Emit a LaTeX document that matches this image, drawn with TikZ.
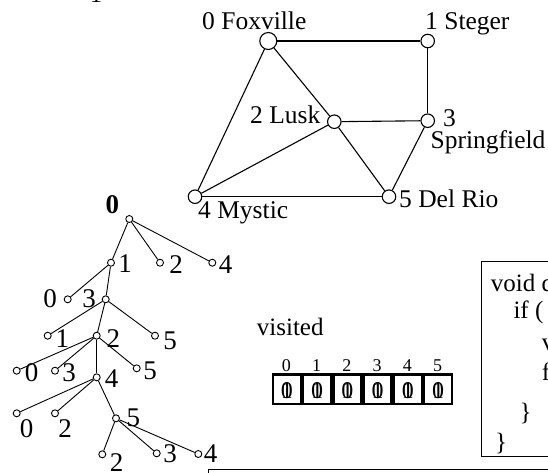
\documentclass[tikz,border=0pt]{standalone}
\usepackage{fontspec}
\setmainfont{Liberation Serif}
\begin{document}
\begin{tikzpicture}[x=1pt,y=-1pt,
  gv/.style={circle,draw,fill=white,line width=1.1pt,minimum size=13.5pt,inner sep=0pt},
  gl/.style={font=\fontsize{25.5}{29}\selectfont,inner sep=0pt,anchor=base west},
  tv/.style={circle,draw,fill=white,line width=0.9pt,minimum size=7pt,inner sep=0pt},
  tl/.style={font=\fontsize{27}{30}\selectfont,inner sep=0pt},
  ge/.style={line width=1.1pt},
  te/.style={line width=0.9pt},
  cell/.style={draw,line width=2.5pt,minimum width=28pt,minimum height=29.5pt,inner sep=0pt},
  cellnum/.style={font=\fontsize{24}{28}\selectfont,inner sep=0pt,anchor=base},
  idx/.style={font=\fontsize{18}{20}\selectfont,inner sep=0pt,anchor=base},
  code/.style={font=\fontsize{25}{28}\selectfont,inner sep=0pt,anchor=base west}]
\useasboundingbox (0,0) rectangle (548,472);

% cut-off glyph at top
\node[font=\fontsize{24}{28}\selectfont,inner sep=0pt,anchor=base] (topglyph) at (96,2.5) {1};

% ---------- graph ----------
\node[gv,minimum size=17pt] (g0) at (268.3,41) {};
\node[gv] (g1) at (427.7,41) {};
\node[gv] (g2) at (334.3,121.7) {};
\node[gv] (g3) at (427.7,120.7) {};
\node[gv] (g4) at (195,196.7) {};
\node[gv] (g5) at (389,196.7) {};
\draw[ge] (g0) -- (g1);
\draw[ge] (g0) -- (g2);
\draw[ge] (g0) -- (g4);
\draw[ge] (g1) -- (g3);
\draw[ge] (g2) -- (g3);
\draw[ge] (g2) -- (g4);
\draw[ge] (g2) -- (g5);
\draw[ge] (g3) -- (g5);
\draw[ge] (g4) -- (g5);
\node[gl] (l0) at (202,29) {0 Foxville};
\node[gl] (l1) at (425,29) {1 Steger};
\node[gl] (l2) at (250,123) {2 Lusk};
\node[gl] (l3) at (443,126.5) {3};
\node[gl] (l3b) at (430.5,148.5) {Springfield};
\node[gl] (l4) at (198,218.5) {4 Mystic};
\node[gl] (l5) at (399,207) {5 Del Rio};

% ---------- tree ----------
\node[tv] (r) at (129.3,219) {};
\node[tv] (n1) at (111,262.7) {};
\node[tv] (n2) at (160,262.7) {};
\node[tv] (n4) at (212.3,262.7) {};
\node[tv] (a0) at (67.7,299.3) {};
\node[tv] (a3) at (105.7,299.3) {};
\node[tv] (b1) at (47.7,335.7) {};
\node[tv] (b2) at (96.7,335.7) {};
\node[tv] (b5) at (155,335.7) {};
\node[tv] (c0) at (16.7,370.7) {};
\node[tv] (c3) at (55,370.7) {};
\node[tv] (c5) at (136.7,368.3) {};
\node[tv] (c4) at (96.7,377.3) {};
\node[tv] (d0) at (16.7,413.3) {};
\node[tv] (d2) at (55,413.3) {};
\node[tv] (d5) at (116,418.3) {};
\node[tv] (e2) at (102.3,454.3) {};
\node[tv] (e3) at (156.7,453.3) {};
\node[tv] (e4) at (198.3,454) {};
\draw[te] (r) -- (n1);
\draw[te] (r) -- (n2);
\draw[te] (r) -- (n4);
\draw[te] (n1) -- (a0);
\draw[te] (n1) -- (a3);
\draw[te] (a3) -- (b1);
\draw[te] (a3) -- (b2);
\draw[te] (a3) -- (b5);
\draw[te] (b2) -- (c0);
\draw[te] (b2) -- (c3);
\draw[te] (b2) -- (c5);
\draw[te] (b2) -- (c4);
\draw[te] (c4) -- (d0);
\draw[te] (c4) -- (d2);
\draw[te] (c4) -- (d5);
\draw[te] (d5) -- (e2);
\draw[te] (d5) -- (e3);
\draw[te] (d5) -- (e4);

\node[tl,font=\fontsize{27}{30}\selectfont\bfseries] (tr) at (112.3,205) {0};
\node[tl] (tn1) at (125,264) {1};
\node[tl] (tn2) at (176,264.5) {2};
\node[tl] (tn4) at (225.7,265) {4};
\node[tl] (ta0) at (50,298.7) {0};
\node[tl] (ta3) at (89,298.7) {3};
\node[tl] (tb1) at (62.3,338.3) {1};
\node[tl] (tb2) at (113.3,338.3) {2};
\node[tl] (tb5) at (170,340.7) {5};
\node[tl] (tc0) at (31.7,372.3) {0};
\node[tl] (tc3) at (69,372.3) {3};
\node[tl] (tc5) at (150,370.3) {5};
\node[tl] (tc4) at (111.7,379) {4};
\node[tl] (td0) at (26.7,429) {0};
\node[tl] (td2) at (65,429) {2};
\node[tl] (td5) at (133.3,417.3) {5};
\node[tl] (te2) at (116.7,462.7) {2};
\node[tl] (te3) at (170,453.3) {3};
\node[tl] (te4) at (210.7,453.3) {4};

% ---------- visited array ----------
\node[font=\fontsize{25}{28}\selectfont,inner sep=0pt,anchor=base west] (vis) at (256.7,335) {visited};
\foreach \i in {0,...,5}{
  \node[cell] (c\i) at ({286.8+30.27*\i},389.2) {};
  \node[cellnum] (z\i) at ({286.8+30.27*\i},398) {0};
  \node[cellnum] (o\i) at ({286.8+30.27*\i},398) {1};
  \node[idx] (i\i) at ({286.3+30.27*\i},371) {\i};
}

% ---------- code box ----------
\draw[line width=0.9pt] (560,261.7) -- (481.7,261.7) -- (481.7,456.3) -- (560,456.3);
\coordinate (cb) at (481.7,261.7);
\node[code] (k1) at (490.7,291.7) {void d};
\node[code] (k2) at (513.3,318.3) {if (};
\node[code] (k3) at (541.7,350) {v};
\node[code] (k4) at (541.7,380) {f};
\node[code] (k5) at (519.3,420) {\}};
\node[code] (k6) at (495,450) {\}};

% ---------- bottom box ----------
\draw[line width=1.3pt] (208.3,480) -- (208.3,469.3) -- (560,469.3);
\coordinate (bb) at (208.3,469.3);
\end{tikzpicture}
\end{document}
